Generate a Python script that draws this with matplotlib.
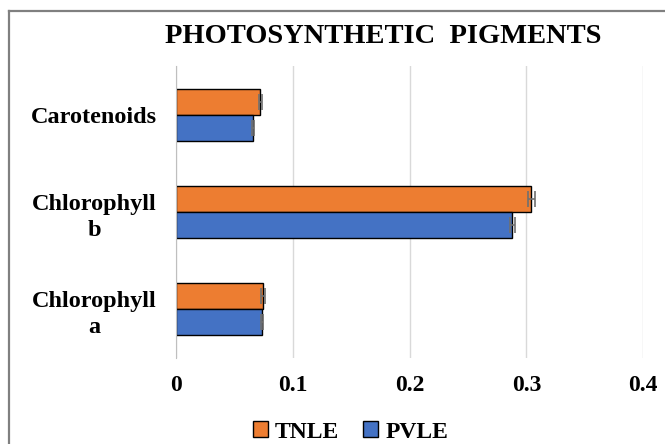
import matplotlib
matplotlib.use("Agg")
import matplotlib.pyplot as plt
import numpy as np
from matplotlib.lines import Line2D

categories = ["Chlorophyll\na", "Chlorophyll\nb", "Carotenoids"]
tnle = [0.0743, 0.304, 0.072]
pvle = [0.0734, 0.288, 0.066]
tnle_err = [0.0015, 0.003, 0.0015]
pvle_err = [0.001, 0.002, 0.001]
xticks = [0, 0.1, 0.2, 0.3, 0.4]
xticklabels = ["0", "0.1", "0.2", "0.3", "0.4"]

plt.rcParams['font.family'] = ['Liberation Serif', 'DejaVu Serif']
plt.rcParams['font.weight'] = 'bold'

fig = plt.figure(figsize=(6.65, 4.44), dpi=100)
ax = fig.add_axes([0.265, 0.194, 0.702, 0.657])

y = np.arange(len(categories))
h = 0.27
orange = '#ED7D31'
blue = '#4472C4'
err_kw = dict(ecolor='#707070', elinewidth=1.2, capsize=6, capthick=1.2)
ax.barh(y + h/2, tnle, height=h, color=orange, edgecolor='black', linewidth=1,
        xerr=tnle_err, error_kw=err_kw, label='TNLE', zorder=3)
ax.barh(y - h/2, pvle, height=h, color=blue, edgecolor='black', linewidth=1,
        xerr=pvle_err, error_kw=err_kw, label='PVLE', zorder=3)

ax.set_xlim(0, 0.4)
ax.set_ylim(-0.5, 2.5)
ax.set_xticks(xticks)
ax.set_xticklabels(xticklabels, fontsize=17, fontweight='bold')
ax.set_yticks(y)
ax.set_yticklabels(categories, fontsize=17.5, fontweight='bold', linespacing=1.35)
for lbl in ax.get_yticklabels():
    lbl.set_multialignment('center')
ax.tick_params(axis='y', length=0, pad=14)
ax.tick_params(axis='x', length=0, pad=12)
ax.grid(axis='x', color='#d9d9d9', linewidth=1, zorder=0)
for s in ['top', 'right', 'bottom']:
    ax.spines[s].set_visible(False)
ax.spines['left'].set_color('#bfbfbf')
ax.spines['left'].set_zorder(4)

fig.text(0.576, 0.918, "PHOTOSYNTHETIC  PIGMENTS", ha='center', va='center',
         fontsize=20.5, fontweight='bold')

handles, labels = ax.get_legend_handles_labels()
leg = fig.legend(handles, labels, loc='center', bbox_to_anchor=(0.527, 0.027), ncol=2,
                 frameon=False, handlelength=0.65, handleheight=0.65,
                 handletextpad=0.3, columnspacing=1.0, prop={'weight': 'bold', 'size': 17},
                 borderpad=0.1)

# chart border (left and top visible, others cropped)
x0 = 8.5 / 665
y0 = 1 - 11 / 444
fig.add_artist(Line2D([x0, x0], [0, y0], transform=fig.transFigure, color='#808080', linewidth=1.6))
fig.add_artist(Line2D([x0, 1], [y0, y0], transform=fig.transFigure, color='#808080', linewidth=1.6))

fig.savefig("out.png", dpi=100)
